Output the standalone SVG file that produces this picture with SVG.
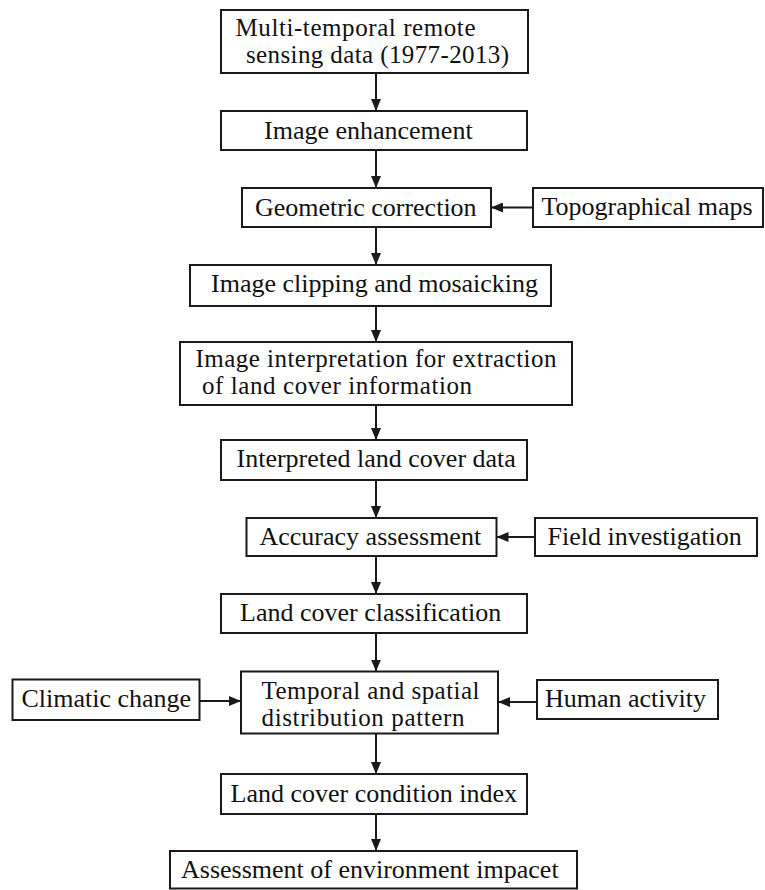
<svg xmlns="http://www.w3.org/2000/svg" width="765" height="890" viewBox="0 0 765 890">
<style>
.box{fill:#fff;stroke:#1a1a1a;stroke-width:2}
.t{font-family:"Liberation Serif","Times New Roman",serif;font-size:26px;fill:#111}
.t2{font-family:"Liberation Serif","Times New Roman",serif;font-size:25px;fill:#111}
.c{stroke:#1a1a1a;stroke-width:2;fill:none;marker-end:url(#ah)}
</style>
<defs>
<marker id="ah" markerUnits="userSpaceOnUse" markerWidth="12" markerHeight="10" refX="12" refY="5" orient="auto">
<path d="M0,0 L12,5 L0,10 z" fill="#1a1a1a"/>
</marker>
</defs>
<rect width="765" height="890" fill="#fff"/>
<g id="connectors">
<line class="c" x1="376" y1="73" x2="376" y2="111"/>
<line class="c" x1="376" y1="150" x2="376" y2="188"/>
<line class="c" x1="376" y1="227" x2="376" y2="265"/>
<line class="c" x1="376" y1="306" x2="376" y2="342"/>
<line class="c" x1="376" y1="405" x2="376" y2="440"/>
<line class="c" x1="376" y1="480" x2="376" y2="518"/>
<line class="c" x1="376" y1="556" x2="376" y2="594"/>
<line class="c" x1="376" y1="633" x2="376" y2="671.5"/>
<line class="c" x1="376" y1="733.5" x2="376" y2="774"/>
<line class="c" x1="376" y1="814" x2="376" y2="851"/>
<line class="c" x1="533" y1="207.5" x2="491" y2="207.5"/>
<line class="c" x1="535" y1="537" x2="496.5" y2="537"/>
<line class="c" x1="199.5" y1="701" x2="241" y2="701"/>
<line class="c" x1="537" y1="702" x2="498" y2="702"/>
</g>
<g id="n1"><rect class="box" x="221" y="10" width="307" height="63"/>
<text class="t2" x="235.5" y="35.5" textLength="240">Multi-temporal remote</text>
<text class="t2" x="246" y="63" textLength="263">sensing data (1977-2013)</text></g>
<g id="n2"><rect class="box" x="221" y="111" width="306" height="39"/>
<text class="t" x="264" y="138.5">Image enhancement</text></g>
<g id="n3"><rect class="box" x="242" y="188" width="249" height="39"/>
<text class="t" x="255" y="215.5">Geometric correction</text></g>
<g id="n4"><rect class="box" x="533" y="188" width="230" height="39"/>
<text class="t" x="541.5" y="215">Topographical maps</text></g>
<g id="n5"><rect class="box" x="190" y="265" width="361" height="41"/>
<text class="t" x="211" y="292">Image clipping and mosaicking</text></g>
<g id="n6"><rect class="box" x="180" y="342" width="392" height="63"/>
<text class="t2" x="195.5" y="366.5" textLength="361">Image interpretation for extraction</text>
<text class="t2" x="202" y="394" textLength="270">of land cover information</text></g>
<g id="n7"><rect class="box" x="221" y="440" width="306" height="40"/>
<text class="t" x="236.5" y="467">Interpreted land cover data</text></g>
<g id="n8"><rect class="box" x="246.5" y="518" width="250" height="38"/>
<text class="t" x="259.5" y="545">Accuracy assessment</text></g>
<g id="n9"><rect class="box" x="535" y="518" width="222" height="38"/>
<text class="t" x="547.5" y="545">Field investigation</text></g>
<g id="n10"><rect class="box" x="221" y="594" width="306" height="39"/>
<text class="t" x="240" y="621">Land cover classification</text></g>
<g id="n11"><rect class="box" x="241" y="671.5" width="257" height="62"/>
<text class="t2" x="261.5" y="698.5" textLength="218">Temporal and spatial</text>
<text class="t2" x="261.5" y="726" textLength="203">distribution pattern</text></g>
<g id="n12"><rect class="box" x="12.5" y="679.5" width="187" height="40.5"/>
<text class="t" x="21.5" y="707">Climatic change</text></g>
<g id="n13"><rect class="box" x="537" y="680" width="181" height="39"/>
<text class="t" x="545" y="707">Human activity</text></g>
<g id="n14"><rect class="box" x="221" y="774" width="306" height="40"/>
<text class="t" x="230.5" y="801.5">Land cover condition index</text></g>
<g id="n15"><rect class="box" x="170" y="851" width="407" height="37.5"/>
<text class="t" x="181" y="878">Assessment of environment impacet</text></g>
</svg>
